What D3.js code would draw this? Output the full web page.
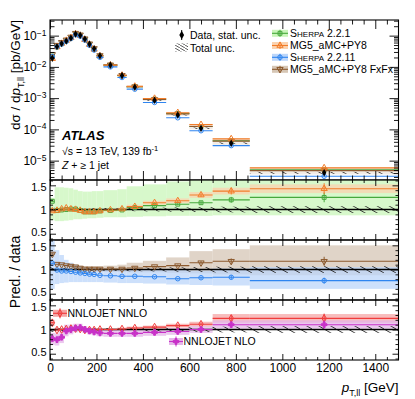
<!DOCTYPE html>
<html>
<head>
<meta charset="utf-8">
<script src="https://cdn.jsdelivr.net/npm/d3@7"></script>
<style>
  body { margin: 0; background: #fff; }
  text { font-family: "Liberation Sans", Arial, sans-serif; }
</style>
</head>
<body>
<div class="container"></div>
<script>
// ---- data ----
const binEdges = [0, 20, 40, 60, 80, 100, 120, 140, 160, 180, 200, 230, 290, 330, 400, 500, 600, 700, 860, 1500];
const dataXsec = [0.0189, 0.0445, 0.0555, 0.0677, 0.0844, 0.113, 0.103, 0.0784, 0.0542, 0.0384,
                  0.0229, 0.0115, 0.00532, 0.00225, 0.000857, 0.00029, 0.000109, 3.6e-5, 4.1e-6];
const dataTotUnc = [0.05, 0.03, 0.03, 0.03, 0.03, 0.03, 0.03, 0.03, 0.03, 0.03,
                    0.03, 0.03, 0.03, 0.035, 0.04, 0.045, 0.05, 0.06, 0.07];
const mcStatUnc = [0.01, 0.005, 0.005, 0.005, 0.005, 0.005, 0.005, 0.005, 0.005, 0.005,
                   0.005, 0.005, 0.01, 0.01, 0.015, 0.02, 0.03, 0.05, 0.08];

const sherpa221Ratio = [1.17, 0.98, 0.99, 1.0, 1.01, 1.01, 0.98, 0.95, 0.95, 0.95, 0.97, 0.98, 0.99, 1.04, 1.08, 1.11, 1.14, 1.2, 1.25];
const sherpa221Up    = [1.24, 1.46, 1.46, 1.45, 1.44, 1.41, 1.38, 1.37, 1.37, 1.38, 1.38, 1.4, 1.42, 1.48, 1.52, 1.58, 1.62, 1.66, 1.7];
const sherpa221Down  = [0.78, 0.76, 0.76, 0.77, 0.78, 0.8, 0.8, 0.81, 0.82, 0.82, 0.83, 0.84, 0.84, 0.85, 0.86, 0.87, 0.87, 0.88, 0.88];

const mg5Ratio = [0.97, 0.98, 1.01, 1.03, 1.01, 1.0, 0.98, 0.95, 0.95, 0.95, 0.97, 0.99, 1.01, 1.06, 1.14, 1.18, 1.3, 1.38, 1.43];
const mg5Up    = [1.0, 1.01, 1.04, 1.06, 1.04, 1.03, 1.01, 0.98, 0.98, 0.98, 1.0, 1.02, 1.04, 1.1, 1.18, 1.23, 1.36, 1.45, 1.52];
const mg5Down  = [0.94, 0.95, 0.98, 1.0, 0.98, 0.97, 0.95, 0.92, 0.92, 0.92, 0.94, 0.96, 0.98, 1.02, 1.1, 1.13, 1.24, 1.31, 1.34];

const sherpa2211Ratio = [1.13, 0.99, 0.97, 0.97, 0.96, 0.945, 0.93, 0.92, 0.905, 0.9, 0.88, 0.87, 0.86, 0.86, 0.85, 0.81, 0.83, 0.84, 0.77];
const sherpa2211Up    = [1.6, 1.4, 1.3, 1.2, 1.14, 1.1, 1.07, 1.05, 1.04, 1.03, 1.02, 1.01, 1.0, 1.0, 0.99, 0.99, 0.98, 1.02, 1.05];
const sherpa2211Down  = [0.6, 0.7, 0.72, 0.73, 0.74, 0.74, 0.74, 0.74, 0.74, 0.74, 0.74, 0.73, 0.72, 0.72, 0.71, 0.69, 0.68, 0.67, 0.6];

const fxfxRatio = [1.32, 1.11, 1.1, 1.08, 1.07, 1.055, 1.03, 1.01, 1.01, 1.01, 1.01, 1.01, 1.01, 1.03, 1.06, 1.08, 1.14, 1.17, 1.17];
const fxfxUp    = [1.36, 1.16, 1.15, 1.13, 1.12, 1.1, 1.08, 1.07, 1.07, 1.07, 1.07, 1.08, 1.1, 1.14, 1.18, 1.25, 1.38, 1.42, 1.5];
const fxfxDown  = [1.25, 1.05, 1.04, 1.02, 1.0, 0.99, 0.97, 0.95, 0.95, 0.95, 0.95, 0.95, 0.95, 0.94, 0.94, 0.93, 0.92, 0.9, 0.88];

const nnloRatio = [1.14, 0.99, 1.0, 1.01, 1.02, 1.02, 1.01, 0.99, 0.99, 0.99, 1.0, 1.0, 1.01, 1.03, 1.05, 1.08, 1.11, 1.23, 1.23];
const nnloUp    = [1.2, 1.03, 1.03, 1.04, 1.05, 1.05, 1.04, 1.02, 1.02, 1.02, 1.03, 1.03, 1.04, 1.06, 1.08, 1.12, 1.16, 1.32, 1.32];
const nnloDown  = [1.08, 0.96, 0.97, 0.98, 0.99, 0.99, 0.98, 0.96, 0.96, 0.96, 0.97, 0.97, 0.98, 0.99, 1.01, 1.04, 1.06, 1.14, 1.14];

const nloRatio = [0.81, 0.79, 0.84, 0.97, 1.0, 1.03, 1.04, 1.0, 0.97, 0.95, 0.93, 0.92, 0.92, 0.92, 0.94, 0.96, 1.0, 1.1, 1.1];
const nloUp    = [0.93, 0.92, 0.97, 1.1, 1.1, 1.12, 1.12, 1.07, 1.04, 1.02, 1.0, 0.99, 0.99, 0.99, 1.01, 1.03, 1.07, 1.19, 1.19];
const nloDown  = [0.68, 0.67, 0.72, 0.86, 0.9, 0.94, 0.96, 0.93, 0.9, 0.88, 0.86, 0.85, 0.85, 0.85, 0.87, 0.89, 0.93, 1.02, 1.02];

const xMajor = [0, 200, 400, 600, 800, 1000, 1200, 1400];
const logMajor = [1e-5, 1e-4, 1e-3, 1e-2, 1e-1];
const ratioMajor = [0.5, 1, 1.5];
const ratioMinor = [0.4, 0.6, 0.7, 0.8, 0.9, 1.1, 1.2, 1.3, 1.4, 1.6];

// ---- layout ----
const w = 415, h = 399;
const left = 50, right = 398.5;
const P = { main: [20, 180], r1: [180, 240], r2: [240, 300], r3: [300, 360] };

const xScale = d3.scaleLinear().domain([0, 1500]).range([left, right]);
const yMain = d3.scaleLog().domain([Math.pow(10, -5.62), Math.pow(10, -0.5)]).range([P.main[1], P.main[0]]);
const rScale = (p) => d3.scaleLinear().domain([0.37, 1.61]).range([p[1], p[0]]);

const xMinor = d3.range(50, 1500, 50).filter(v => v % 200 !== 0);
const logMinor = [];
for (let e = -6; e <= -1; e++) for (let k = 2; k <= 9; k++) {
  const v = k * Math.pow(10, e);
  if (v > yMain.domain()[0] && v < yMain.domain()[1]) logMinor.push(v);
}

const bins = dataXsec.map((d, i) => ({ i: i, lo: binEdges[i], hi: binEdges[i + 1], c: (binEdges[i] + binEdges[i + 1]) / 2 }));

const svg = d3.select(".container").append("svg").attr("width", w).attr("height", h);
const defs = svg.append("defs");
defs.append("pattern").attr("id", "hatch").attr("patternUnits", "userSpaceOnUse")
    .attr("width", 12).attr("height", 7)
    .append("path").attr("d", "M0,0L12,7M-12,0L0,7M12,0L24,7")
    .attr("stroke", "#222").attr("stroke-width", 0.9);
defs.append("pattern").attr("id", "hatchLeg").attr("patternUnits", "userSpaceOnUse")
    .attr("width", 5).attr("height", 3)
    .append("path").attr("d", "M0,0L5,3M-5,0L0,3M5,0L10,3")
    .attr("stroke", "#333").attr("stroke-width", 0.8);
Object.keys(P).forEach(k => {
  defs.append("clipPath").attr("id", "clip-" + k).append("rect")
      .attr("x", left).attr("y", P[k][0]).attr("width", right - left).attr("height", P[k][1] - P[k][0]);
});

const models = {
  s221: { ratio: sherpa221Ratio, up: sherpa221Up, down: sherpa221Down, color: "#46a83c", band: "#c9f5b9", sym: d3.symbolSquare, rot: 0, size: 15 },
  mg5:  { ratio: mg5Ratio, up: mg5Up, down: mg5Down, color: "#f27d2a", band: "#fbd3b0", sym: d3.symbolTriangle, rot: 0, size: 17 },
  s2211:{ ratio: sherpa2211Ratio, up: sherpa2211Up, down: sherpa2211Down, color: "#2f85f0", band: "#bcd6fa", sym: d3.symbolCircle, rot: 0, size: 16 },
  fxfx: { ratio: fxfxRatio, up: fxfxUp, down: fxfxDown, color: "#8c5a2e", band: "#d6c6b5", sym: d3.symbolTriangle, rot: 180, size: 17 },
  nnlo: { ratio: nnloRatio, up: nnloUp, down: nnloDown, color: "#f03c3c", band: "#f5a5a5", sym: d3.symbolDiamond, rot: 0, size: 17 },
  nlo:  { ratio: nloRatio, up: nloUp, down: nloDown, color: "#c832c8", band: "#e4b5e8", sym: d3.symbolCross, rot: 0, size: 18, fill: "#c832c8" }
};

function marker(g, x, y, m) {
  g.append("path").attr("d", d3.symbol().type(m.sym).size(m.size)())
   .attr("transform", `translate(${x},${y}) rotate(${m.rot})`)
   .attr("fill", m.fill || "none").attr("stroke", m.color).attr("stroke-width", 1);
}

function drawBand(g, y, m, scaleBy, opacity) {
  g.selectAll(null).data(bins).enter().append("rect")
   .attr("x", d => xScale(d.lo)).attr("width", d => xScale(d.hi) - xScale(d.lo))
   .attr("y", d => y(m.up[d.i] * scaleBy(d.i)))
   .attr("height", d => Math.max(0.5, y(m.down[d.i] * scaleBy(d.i)) - y(m.up[d.i] * scaleBy(d.i))))
   .attr("fill", m.band).attr("opacity", opacity);
}

function drawModel(g, y, m, scaleBy) {
  bins.forEach(d => {
    const v = m.ratio[d.i] * scaleBy(d.i);
    g.append("line").attr("x1", xScale(d.lo)).attr("x2", xScale(d.hi))
     .attr("y1", y(v)).attr("y2", y(v)).attr("stroke", m.color).attr("stroke-width", 1.1);
    g.append("line").attr("x1", xScale(d.c)).attr("x2", xScale(d.c))
     .attr("y1", y(v * (1 + mcStatUnc[d.i]))).attr("y2", y(v * (1 - mcStatUnc[d.i])))
     .attr("stroke", m.color).attr("stroke-width", 1);
    marker(g, xScale(d.c), y(v), m);
  });
}

function drawHatch(g, y, scaleBy) {
  g.selectAll(null).data(bins).enter().append("rect")
   .attr("x", d => xScale(d.lo)).attr("width", d => xScale(d.hi) - xScale(d.lo))
   .attr("y", d => y((1 + dataTotUnc[d.i]) * scaleBy(d.i)))
   .attr("height", d => y((1 - dataTotUnc[d.i]) * scaleBy(d.i)) - y((1 + dataTotUnc[d.i]) * scaleBy(d.i)))
   .attr("fill", "url(#hatch)");
}

function axes(p, y, yMaj, yMin, isLog, xLabels) {
  const top = p[0], bottom = p[1];
  const M = isLog ? 9 : 6, m = isLog ? 4.5 : 3;
  const g = svg.append("g");
  const font = s => s.attr("font-size", isLog ? 12 : 11).attr("font-family", '"Liberation Sans", Arial, sans-serif');
  g.append("g").attr("transform", `translate(0,${bottom})`)
   .call(d3.axisBottom(xScale).tickValues(xMajor).tickSize(-M).tickPadding(3).tickFormat(xLabels ? d3.format("d") : ""))
   .call(s => s.attr("font-size", 12).attr("font-family", '"Liberation Sans", Arial, sans-serif'));
  g.append("g").attr("transform", `translate(0,${bottom})`)
   .call(d3.axisBottom(xScale).tickValues(xMinor).tickSize(-m).tickFormat(""));
  g.append("g").attr("transform", `translate(0,${top})`)
   .call(d3.axisTop(xScale).tickValues(xMajor).tickSize(-M).tickFormat(""));
  g.append("g").attr("transform", `translate(0,${top})`)
   .call(d3.axisTop(xScale).tickValues(xMinor).tickSize(-m).tickFormat(""));
  const yl = g.append("g").attr("transform", `translate(${left},0)`)
   .call(d3.axisLeft(y).tickValues(yMaj).tickSize(-M).tickPadding(3.5).tickFormat(d => isLog ? "10" : String(d)))
   .call(font);
  if (isLog) {
    yl.selectAll(".tick text").append("tspan").attr("dy", "-0.5em").attr("font-size", 8.5)
      .text(d => "\u2212" + Math.round(-Math.log10(d)));
  } else {
    // keep the outer labels inside their own panel
    yl.selectAll(".tick text").attr("dy", d => d === 1.5 ? "0.5em" : d === 0.5 ? "0.2em" : "0.32em");
  }
  g.append("g").attr("transform", `translate(${left},0)`)
   .call(d3.axisLeft(y).tickValues(yMin).tickSize(-m).tickFormat(""));
  g.append("g").attr("transform", `translate(${right},0)`)
   .call(d3.axisRight(y).tickValues(yMaj).tickSize(-M).tickFormat(""));
  g.append("g").attr("transform", `translate(${right},0)`)
   .call(d3.axisRight(y).tickValues(yMin).tickSize(-m).tickFormat(""));
  g.selectAll(".domain").remove();
  g.selectAll(".tick line").attr("stroke", "#000").attr("stroke-width", 0.9);
  g.append("rect").attr("x", left).attr("y", top).attr("width", right - left).attr("height", bottom - top)
   .attr("fill", "none").attr("stroke", "#000").attr("stroke-width", 1.1);
}

// ---- main panel ----
const gMain = svg.append("g").attr("clip-path", "url(#clip-main)");
const byData = i => dataXsec[i];
["mg5", "fxfx"].forEach(k => drawBand(gMain, yMain, models[k], byData, 0.35));
drawHatch(gMain, yMain, byData);
["s221", "fxfx", "mg5", "s2211"].forEach(k => drawModel(gMain, yMain, models[k], byData));
bins.forEach(d => {
  gMain.append("path").attr("d", d3.symbol().type(d3.symbolDiamond).size(16)())
   .attr("transform", `translate(${xScale(d.c)},${yMain(dataXsec[d.i])})`).attr("fill", "#000");
});
axes(P.main, yMain, logMajor, logMinor, true, false);

// ---- ratio panels ----
function ratioPanel(key, bandKeys, lineKeys, xLabels) {
  const p = P[key], y = rScale(p);
  const g = svg.append("g").attr("clip-path", `url(#clip-${key})`);
  const one = () => 1;
  bandKeys.forEach(k => drawBand(g, y, models[k], one, 0.75));
  drawHatch(g, y, one);
  g.append("line").attr("x1", left).attr("x2", right).attr("y1", y(1)).attr("y2", y(1))
   .attr("stroke", "#000").attr("stroke-width", 1.6);
  lineKeys.forEach(k => drawModel(g, y, models[k], one));
  axes(p, y, ratioMajor, ratioMinor, false, xLabels);
  return y;
}
ratioPanel("r1", ["s221", "mg5"], ["s221", "mg5"], false);
ratioPanel("r2", ["fxfx", "s2211"], ["fxfx", "s2211"], false);
ratioPanel("r3", ["nnlo", "nlo"], ["nnlo", "nlo"], true);

// ---- legends ----
const lg = svg.append("g").attr("font-size", 10.5);
lg.append("line").attr("x1", 181.7).attr("x2", 181.7).attr("y1", 30).attr("y2", 40).attr("stroke", "#000");
lg.append("path").attr("d", d3.symbol().type(d3.symbolDiamond).size(20)()).attr("transform", "translate(181.7,35)");
lg.append("text").attr("x", 190).attr("y", 38.7).text("Data, stat. unc.");
lg.append("rect").attr("x", 175).attr("y", 43.5).attr("width", 13).attr("height", 8).attr("fill", "url(#hatchLeg)");
lg.append("text").attr("x", 190).attr("y", 51.5).text("Total unc.");

const legRows = [
  { k: "s221", y: 33.3, big: "S", small: "HERPA", rest: " 2.2.1" },
  { k: "mg5", y: 45.5, label: "MG5_aMC+PY8" },
  { k: "s2211", y: 57.3, big: "S", small: "HERPA", rest: " 2.2.11" },
  { k: "fxfx", y: 69.3, label: "MG5_aMC+PY8 FxFx" }
];
legRows.forEach(r => {
  const m = models[r.k];
  lg.append("rect").attr("x", 272).attr("y", r.y - 3.5).attr("width", 16).attr("height", 7).attr("fill", m.band);
  lg.append("line").attr("x1", 272).attr("x2", 288).attr("y1", r.y).attr("y2", r.y).attr("stroke", m.color).attr("stroke-width", 1.1);
  lg.append("line").attr("x1", 280).attr("x2", 280).attr("y1", r.y - 3.5).attr("y2", r.y + 3.5).attr("stroke", m.color);
  marker(lg, 280, r.y, m);
  const t = lg.append("text").attr("x", 290).attr("y", r.y + 3.7);
  if (r.label) t.text(r.label);
  else { t.append("tspan").text(r.big); t.append("tspan").attr("font-size", 8).text(r.small); t.append("tspan").text(r.rest); }
});

function smallLegend(x, y, m, label) {
  lg.append("rect").attr("x", x - 7).attr("y", y - 3.5).attr("width", 14).attr("height", 7).attr("fill", m.band);
  lg.append("line").attr("x1", x - 7).attr("x2", x + 7).attr("y1", y).attr("y2", y).attr("stroke", m.color).attr("stroke-width", 1.1);
  lg.append("line").attr("x1", x).attr("x2", x).attr("y1", y - 5).attr("y2", y + 5).attr("stroke", m.color);
  marker(lg, x, y, m);
  lg.append("text").attr("x", x + 7.5).attr("y", y + 3.7).text(label);
}
smallLegend(60, 313.3, models.nnlo, "NNLOJET NNLO");
smallLegend(176, 341.5, models.nlo, "NNLOJET NLO");

// ---- ATLAS label ----
svg.append("text").attr("x", 62).attr("y", 139.5).attr("font-size", 13).attr("font-weight", "bold")
   .attr("font-style", "italic").text("ATLAS");
const en = svg.append("text").attr("x", 62).attr("y", 154.5).attr("font-size", 10.5);
en.append("tspan").text("\u221As = 13 TeV, 139 fb");
en.append("tspan").attr("dy", -4).attr("font-size", 7.5).text("-1");
const zj = svg.append("text").attr("x", 62).attr("y", 168.5).attr("font-size", 10.5);
zj.append("tspan").attr("font-style", "italic").text("Z");
zj.append("tspan").text(" + \u2265 1 jet");

// ---- axis titles ----
const yt = svg.append("text").attr("transform", "translate(20,75) rotate(-90)").attr("text-anchor", "middle").attr("font-size", 13.5);
yt.append("tspan").text("d\u03C3 / d");
yt.append("tspan").attr("font-style", "italic").text("p");
yt.append("tspan").attr("font-size", 9).attr("dy", 4).text("T,ll");
yt.append("tspan").attr("dy", -4).text(" [pb/GeV]");

svg.append("text").attr("transform", "translate(20,272) rotate(-90)").attr("text-anchor", "middle")
   .attr("font-size", 14).text("Pred. / data");

const xt = svg.append("text").attr("x", right).attr("y", 392).attr("text-anchor", "end").attr("font-size", 13.5);
xt.append("tspan").attr("font-style", "italic").text("p");
xt.append("tspan").attr("font-size", 9).attr("dy", 4).text("T,ll");
xt.append("tspan").attr("dy", -4).text(" [GeV]");
</script>
</body>
</html>
